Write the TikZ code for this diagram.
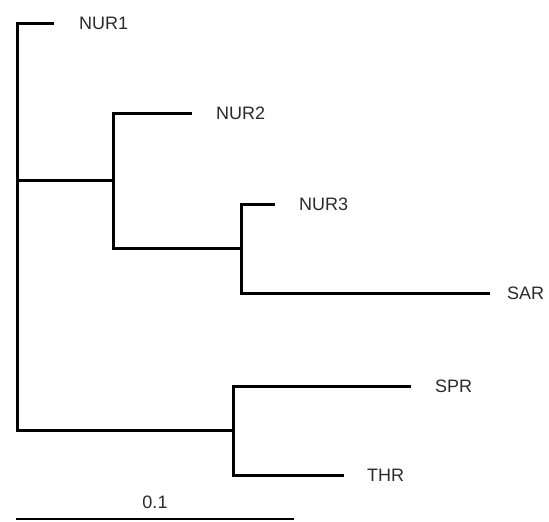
\documentclass[tikz,border=0pt]{standalone}
\usepackage{fontspec}
\setmainfont{Liberation Sans}
\definecolor{labelgray}{HTML}{2A2A2A}
\begin{document}
\begin{tikzpicture}[x=1pt,y=-1pt,
  branch/.style={line width=3pt,line cap=rect,line join=miter},
  scalebar/.style={line width=2pt},
  taxon/.style={anchor=west,inner sep=0pt,text=labelgray,font=\fontsize{18}{19}\selectfont}]
\useasboundingbox (0,0) rectangle (549,522);
% internal nodes
\coordinate (root) at (17,180);
\coordinate (rtop) at (17,23);
\coordinate (rbot) at (17,430);
\coordinate (n1) at (113,180);
\coordinate (n1t) at (113,113);
\coordinate (n1b) at (113,248);
\coordinate (n2) at (241,248);
\coordinate (n2t) at (241,204);
\coordinate (n2b) at (241,293);
\coordinate (n3) at (233,430);
\coordinate (n3t) at (233,386);
\coordinate (n3b) at (233,475);
% tips
\coordinate (tNUR1) at (52,23);
\coordinate (tNUR2) at (190,113);
\coordinate (tNUR3) at (273,204);
\coordinate (tSAR) at (488,293);
\coordinate (tSPR) at (409,386);
\coordinate (tTHR) at (342,475);
% labels
\node[taxon] (lNUR1) at (79,23) {NUR1};
\node[taxon] (lNUR2) at (216,113) {NUR2};
\node[taxon] (lNUR3) at (299,204) {NUR3};
\node[taxon] (lSAR) at (507,293) {SAR};
\node[taxon] (lSPR) at (435,386) {SPR};
\node[taxon] (lTHR) at (367,475) {THR};
% tree
\draw[branch] (tNUR1) -- (rtop) -- (rbot) -- (n3);
\draw[branch] (root) -- (n1);
\draw[branch] (tNUR2) -- (n1t) -- (n1b) -- (n2);
\draw[branch] (tNUR3) -- (n2t) -- (n2b) -- (tSAR);
\draw[branch] (tSPR) -- (n3t) -- (n3b) -- (tTHR);
% scale bar
\coordinate (sL) at (16,519);
\coordinate (sR) at (294,519);
\draw[scalebar] (sL) -- (sR);
\node[taxon,anchor=center] (scale) at (155,502) {0.1};
\end{tikzpicture}
\end{document}
